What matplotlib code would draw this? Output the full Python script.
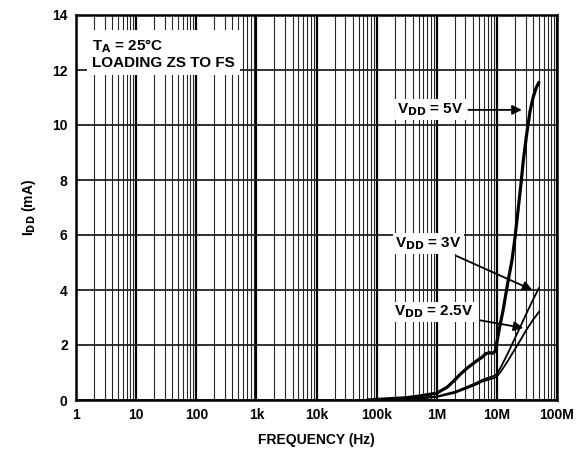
# Supply current vs frequency chart (I_DD vs FREQUENCY)
import matplotlib
matplotlib.use('Agg')
import matplotlib.pyplot as plt
import numpy as np
from matplotlib.ticker import FixedLocator, NullFormatter

plt.rcParams['font.family'] = ['Liberation Sans', 'DejaVu Sans']
plt.rcParams['font.weight'] = 'bold'
plt.rcParams['axes.labelweight'] = 'bold'
plt.rcParams['mathtext.default'] = 'bf'

# data
freq_5v = [70e3, 100e3, 300e3, 500e3, 1e6, 1.5e6, 2e6, 2.5e6, 3.2e6, 4e6, 4.8e6, 5.7e6,
           6.5e6, 7.5e6, 8.5e6, 9.5e6, 10e6, 11e6, 12.7e6, 15e6, 17.9e6, 20e6, 22.5e6,
           25e6, 27.5e6, 31e6, 35.6e6, 40e6, 45e6, 50e6]
idd_5v = [0.0, 0.02, 0.08, 0.14, 0.25, 0.47, 0.73, 0.95, 1.16, 1.32, 1.45, 1.56,
          1.68, 1.72, 1.7, 1.78, 2.1, 2.6, 3.27, 4.2, 5.1, 5.9, 6.9,
          7.8, 8.7, 9.6, 10.5, 11.0, 11.35, 11.55]

freq_3v = [70e3, 200e3, 500e3, 1e6, 2e6, 3.2e6, 4.5e6, 5.7e6, 7e6, 8e6, 9e6, 10e6,
           12e6, 15e6, 20e6, 25e6, 30e6, 40e6, 50e6]
idd_3v = [0.0, 0.03, 0.07, 0.13, 0.3, 0.48, 0.62, 0.73, 0.8, 0.84, 0.88, 0.95,
          1.25, 1.67, 2.25, 2.7, 3.08, 3.65, 4.07]

freq_25v = [70e3, 200e3, 500e3, 1e6, 2e6, 3.2e6, 4.5e6, 5.7e6, 7e6, 8e6, 9e6, 10e6,
            12e6, 15e6, 20e6, 25e6, 30e6, 40e6, 50e6]
idd_25v = [0.0, 0.02, 0.05, 0.11, 0.26, 0.43, 0.56, 0.67, 0.73, 0.77, 0.8, 0.85,
           1.08, 1.4, 1.85, 2.2, 2.5, 2.92, 3.2]

x_ticks = [1, 10, 100, 1e3, 1e4, 1e5, 1e6, 1e7, 1e8]
x_labels = ['1', '10', '100', '1k', '10k', '100k', '1M', '10M', '100M']
y_ticks = [0, 2, 4, 6, 8, 10, 12, 14]

fig = plt.figure(figsize=(5.77, 4.62), dpi=100)
ax = fig.add_axes([76 / 577, 1 - 400 / 462, 481 / 577, 385 / 462])

ax.set_xscale('log')
ax.set_xlim(1, 1e8)
ax.set_ylim(0, 14)

# grid: decades thick, minor thin, horizontal every 2 mA
minor = [m * 10 ** d for d in range(8) for m in range(2, 10)]
ax.xaxis.set_major_locator(FixedLocator(x_ticks))
ax.xaxis.set_minor_locator(FixedLocator(minor))
ax.xaxis.set_minor_formatter(NullFormatter())
ax.set_xticklabels(x_labels)
ax.set_yticks(y_ticks)
ax.grid(True, which='major', axis='x', color='black', linewidth=1.6)
ax.grid(True, which='minor', axis='x', color='black', linewidth=0.8, alpha=0.85)
ax.grid(True, which='major', axis='y', color='#222222', linewidth=1.3)
ax.set_axisbelow(True)
ax.tick_params(which='both', length=0, labelsize=10, pad=6)
for s in ax.spines.values():
    s.set_linewidth(1.8)

# curves
ax.plot(freq_5v, idd_5v, color='black', linewidth=2.3, solid_capstyle='round',
        solid_joinstyle='round', zorder=3)
ax.plot(freq_3v, idd_3v, color='black', linewidth=1.3, zorder=3)
ax.plot(freq_25v, idd_25v, color='black', linewidth=1.3, zorder=3)

box = dict(facecolor='white', edgecolor='none', pad=1.5)

# annotations
ax.annotate('V$_{DD}$ = 5V', xy=(2.6e7, 10.55), xytext=(7.8e5, 10.55),
            fontsize=11, ha='center', va='center', bbox=box,
            arrowprops=dict(arrowstyle='-|>', color='black', lw=1.3, mutation_scale=14,
                            shrinkA=2, shrinkB=0))
ax.annotate('V$_{DD}$ = 3V', xy=(3.9e7, 4.0), xytext=(7.2e5, 5.7),
            fontsize=11, ha='center', va='center', bbox=box,
            arrowprops=dict(arrowstyle='-|>', color='black', lw=1.3, mutation_scale=14,
                            shrinkA=4, shrinkB=0))
ax.annotate('V$_{DD}$ = 2.5V', xy=(2.75e7, 2.62), xytext=(8.7e5, 3.2),
            fontsize=11, ha='center', va='center', bbox=box,
            arrowprops=dict(arrowstyle='-|>', color='black', lw=1.3, mutation_scale=14,
                            shrinkA=4, shrinkB=0))

ax.text(1.85, 13.2, 'T$_A$ = 25°C\nLOADING ZS TO FS', fontsize=11, ha='left', va='top',
        linespacing=1.1, bbox=dict(facecolor='white', edgecolor='none', pad=4))

ax.set_xlabel('FREQUENCY (Hz)', fontsize=10, fontweight='bold', labelpad=8)
ax.set_ylabel('I$_{DD}$ (mA)', fontsize=10, fontweight='bold', labelpad=10)

plt.savefig('out.png', dpi=100)
plt.close()
